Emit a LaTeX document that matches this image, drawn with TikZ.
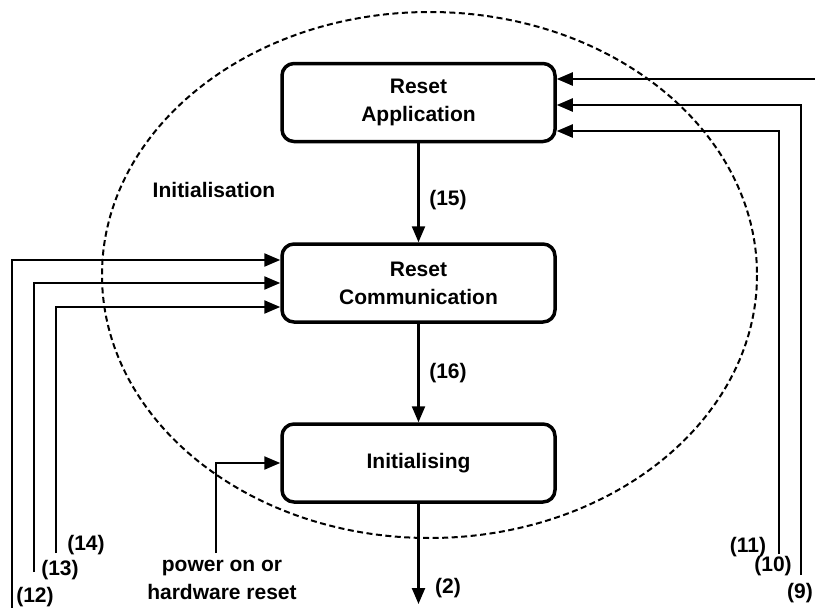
\documentclass[tikz,border=0pt]{standalone}
\usepackage{fontspec}
\setmainfont{Liberation Sans}
\usetikzlibrary{arrows.meta}
\begin{document}
\begin{tikzpicture}[x=1pt,y=-1pt,
  every node/.style={font=\fontsize{21}{28}\selectfont\bfseries},
  state/.style={draw,line width=3.5pt,rounded corners=12pt,minimum width=273pt,minimum height=78pt,align=center,inner sep=0pt},
  conn/.style={line width=2.3pt,-{Triangle[length=16pt,width=13pt]}},
  lbl/.style={inner sep=0pt}]
\useasboundingbox (0,0) rectangle (815,608);
\draw[line width=2pt,dash pattern=on 6pt off 3.5pt] (429.5,275) ellipse [x radius=327.5, y radius=263];
\node[state] (ra) at (418.5,102.5) {Reset\\Application};
\node[state] (rc) at (418.5,283) {Reset\\Communication};
\node[state] (ini) at (418.5,463) {Initialising};
\node[lbl] (init) at (214,190) {Initialisation};
% vertical chain
\draw[conn] (ra.south) -- (rc.north);
\draw[conn] (rc.south) -- (ini.north);
\coordinate (out2) at (418.5,604);
\draw[conn] (ini.south) -- (out2);
\node[lbl] (l15) at (448,200) {(15)};
\node[lbl] (l16) at (448,373) {(16)};
\node[lbl] (l2) at (448,588) {(2)};
% right side
\coordinate (r9) at (815,79);
\coordinate (r10) at (801,575);
\coordinate (r11) at (779,554);
\draw[conn] (r9) -- (r9 -| ra.east);
\draw[conn] (r10) -- (801,105) -- (ra.east |- 0,105);
\draw[conn] (r11) -- (779,131) -- (ra.east |- 0,131);
\node[lbl] (l9) at (800,593) {(9)};
\node[lbl] (l10) at (773,566) {(10)};
\node[lbl] (l11) at (748,547) {(11)};
% left side
\coordinate (c12) at (12,608);
\coordinate (c13) at (34,572);
\coordinate (c14) at (56,553);
\draw[conn] (c12) -- (12,260) -- (rc.west |- 0,260);
\draw[conn] (c13) -- (34,283) -- (rc.west |- 0,283);
\draw[conn] (c14) -- (56,307) -- (rc.west |- 0,307);
\node[lbl] (l12) at (35,597) {(12)};
\node[lbl] (l13) at (60,570) {(13)};
\node[lbl] (l14) at (86,545) {(14)};
% power on
\coordinate (pw) at (216,553);
\draw[conn] (pw) -- (216,463) -- (ini.west);
\node[lbl,align=center] (pwl) at (222,580) {power on or\\hardware reset};
\end{tikzpicture}
\end{document}
